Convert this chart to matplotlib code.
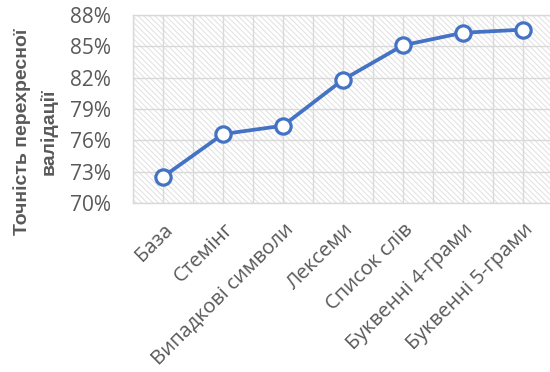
import matplotlib
matplotlib.use("Agg")
from matplotlib import pyplot as plt
from matplotlib.patches import Rectangle
from matplotlib.ticker import FuncFormatter, MultipleLocator

categories = ["База", "Стемінг", "Випадкові символи", "Лексеми", "Список слів",
              "Буквенні 4-грами", "Буквенні 5-грами"]
accuracy = [72.5, 76.6, 77.4, 81.8, 85.1, 86.3, 86.6]
y_ticks = [70, 73, 76, 79, 82, 85, 88]

plt.rcParams['font.family'] = ['Open Sans', 'DejaVu Sans']
plt.rcParams['hatch.linewidth'] = 0.7

fig = plt.figure(figsize=(5.5, 3.72), dpi=100)
ax = fig.add_axes([133 / 550, 1 - 203 / 372, 420 / 550, 188 / 372])

# Hatched background
bg = Rectangle((0, 0), 1, 1, transform=ax.transAxes, facecolor='white',
               edgecolor='#E0E0E0', hatch='\\' * 6, linewidth=0, zorder=0)
ax.add_patch(bg)

x = list(range(len(categories)))
ax.plot(x, accuracy, color='#4472C4', linewidth=2.7, marker='o', markersize=11,
        markerfacecolor='white', markeredgecolor='#4472C4', markeredgewidth=2.3,
        zorder=3, clip_on=False)

ax.set_xlim(-0.5, len(categories) - 0.5)
ax.set_ylim(70, 88)
ax.set_yticks(y_ticks)
ax.yaxis.set_major_formatter(FuncFormatter(lambda v, p: f"{v:.0f}%"))
ax.set_xticks(x)
ax.set_xticklabels(categories, rotation=45, ha='right', rotation_mode='anchor',
                   fontsize=14.6)
ax.xaxis.set_minor_locator(MultipleLocator(0.5))

ax.grid(True, which='major', axis='y', color='#D9D9D9', linewidth=1.0, zorder=1)
ax.grid(True, which='both', axis='x', color='#D9D9D9', linewidth=1.0, zorder=1)
ax.set_axisbelow(True)

for s in ax.spines.values():
    s.set_color('#D9D9D9')
    s.set_linewidth(1.0)

ax.tick_params(axis='both', which='both', length=0, colors='#595959')
ax.tick_params(axis='y', pad=16, labelsize=15)
ax.tick_params(axis='x', pad=12)

ax.set_ylabel("Точність перехресної\nвалідації", fontsize=14, fontweight='bold',
              color='#595959', linespacing=1.6,
              fontfamily=['Liberation Sans', 'DejaVu Sans'])
ax.yaxis.set_label_coords(-0.18, 0.378)

fig.savefig("out.png", dpi=100)
